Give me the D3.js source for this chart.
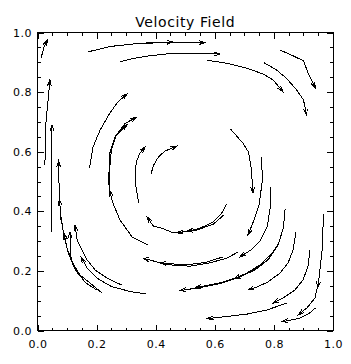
<!DOCTYPE html>
<html>
<head>
<meta charset="utf-8">
<script src="https://cdn.jsdelivr.net/npm/d3@7"></script>
<style>
  body { margin: 0; background: #fff; }
  svg { display: block; }
  text { font-family: "DejaVu Sans", sans-serif; fill: #000; }
</style>
</head>
<body>
<svg width="351" height="364"></svg>
<script>
let svg = d3.select('svg');
const width = +svg.attr('width');
const height = +svg.attr('height');

const title = 'Velocity Field'
const majorTicks = [0, 0.2, 0.4, 0.6, 0.8, 1.0]
const minorTicks = d3.range(0, 1.0001, 0.05)

// streamlines, [x, y] in data units, arrow drawn at the last point
const topFlow = [
	[[0.012, 0.914], [0.022, 0.951], [0.034, 0.975]],
	[[0.171, 0.935], [0.245, 0.953], [0.347, 0.964], [0.459, 0.968]],
	[[0.347, 0.963], [0.448, 0.967], [0.567, 0.966]],
	[[0.279, 0.902], [0.323, 0.913], [0.381, 0.922], [0.437, 0.928], [0.618, 0.928]],
	[[0.573, 0.907], [0.640, 0.897], [0.708, 0.880], [0.763, 0.861], [0.797, 0.841], [0.831, 0.801]],
	[[0.766, 0.899], [0.809, 0.874], [0.843, 0.846], [0.877, 0.807], [0.900, 0.774], [0.911, 0.723]],
	[[0.821, 0.941], [0.860, 0.924], [0.900, 0.905], [0.916, 0.863], [0.941, 0.813]]
]

const rightFlow = [
	[[0.653, 0.676], [0.695, 0.629], [0.714, 0.599], [0.724, 0.539], [0.729, 0.461]],
	[[0.758, 0.582], [0.761, 0.505], [0.750, 0.421], [0.733, 0.371], [0.712, 0.320]],
	[[0.790, 0.482], [0.788, 0.414], [0.777, 0.347], [0.753, 0.300], [0.722, 0.270], [0.685, 0.247]],
	[[0.838, 0.408], [0.832, 0.344], [0.814, 0.287], [0.780, 0.237], [0.736, 0.203], [0.685, 0.180], [0.624, 0.159], [0.550, 0.144], [0.482, 0.134]],
	[[0.817, 0.294], [0.780, 0.238], [0.736, 0.205], [0.685, 0.181], [0.624, 0.161], [0.533, 0.143]],
	[[0.794, 0.260], [0.753, 0.220], [0.709, 0.193], [0.665, 0.173]],
	[[0.875, 0.331], [0.865, 0.270], [0.848, 0.227], [0.821, 0.193], [0.780, 0.163], [0.743, 0.146], [0.712, 0.136]],
	[[0.922, 0.270], [0.915, 0.213], [0.898, 0.169], [0.871, 0.136], [0.831, 0.109], [0.797, 0.092]],
	[[0.968, 0.391], [0.963, 0.270], [0.954, 0.186], [0.948, 0.143]],
	[[0.949, 0.153], [0.939, 0.109], [0.912, 0.076], [0.882, 0.052]],
	[[0.941, 0.076], [0.919, 0.057], [0.888, 0.042], [0.854, 0.034], [0.827, 0.030]],
	[[0.843, 0.092], [0.777, 0.069], [0.709, 0.055], [0.641, 0.047], [0.574, 0.040]]
]

const innerFlow = [
	[[0.678, 0.263], [0.641, 0.243], [0.584, 0.227], [0.516, 0.216], [0.465, 0.218], [0.415, 0.227], [0.357, 0.243]],
	[[0.628, 0.247], [0.567, 0.228], [0.499, 0.220], [0.415, 0.227]],
	[[0.640, 0.424], [0.623, 0.393], [0.595, 0.365], [0.550, 0.343], [0.505, 0.332], [0.471, 0.328]],
	[[0.631, 0.388], [0.595, 0.357], [0.539, 0.337], [0.505, 0.334]],
	[[0.499, 0.331], [0.455, 0.329], [0.425, 0.342], [0.391, 0.351], [0.371, 0.381]],
	[[0.176, 0.545], [0.188, 0.616], [0.212, 0.673], [0.245, 0.730], [0.272, 0.767], [0.303, 0.794]],
	[[0.374, 0.287], [0.320, 0.314], [0.279, 0.371], [0.255, 0.428], [0.244, 0.471]],
	[[0.245, 0.455], [0.244, 0.539], [0.250, 0.606], [0.267, 0.656], [0.303, 0.691]],
	[[0.240, 0.488], [0.245, 0.596], [0.262, 0.649], [0.296, 0.695], [0.335, 0.715]],
	[[0.342, 0.428], [0.332, 0.492], [0.330, 0.539], [0.337, 0.572], [0.347, 0.596], [0.364, 0.616]],
	[[0.384, 0.525], [0.393, 0.555], [0.409, 0.582], [0.431, 0.602], [0.472, 0.619]]
]

const leftFlow = [
	[[0.025, 0.555], [0.029, 0.706], [0.036, 0.773], [0.042, 0.841]],
	[[0.046, 0.331], [0.049, 0.690]],
	[[0.080, 0.364], [0.076, 0.421], [0.073, 0.488], [0.071, 0.569]],
	[[0.201, 0.136], [0.164, 0.159], [0.130, 0.200], [0.105, 0.257], [0.090, 0.314], [0.080, 0.378], [0.074, 0.441]],
	[[0.144, 0.186], [0.117, 0.230], [0.100, 0.277], [0.090, 0.327]],
	[[0.369, 0.122], [0.313, 0.131], [0.249, 0.148], [0.201, 0.176], [0.168, 0.210], [0.147, 0.247]],
	[[0.284, 0.153], [0.235, 0.176], [0.195, 0.203], [0.168, 0.237], [0.151, 0.270], [0.134, 0.304], [0.127, 0.354]],
	[[0.218, 0.126], [0.178, 0.159], [0.144, 0.186], [0.120, 0.220], [0.110, 0.260], [0.110, 0.331]]
]

const margin = {left: 37.5, right: 18, top: 32.5, bottom: 33.5}
const x = d3.scaleLinear().domain([0, 1]).range([margin.left, width - margin.right])
const y = d3.scaleLinear().domain([0, 1]).range([height - margin.bottom, margin.top])

// title
svg.append('text')
	.attr('x', (x(0) + x(1)) / 2)
	.attr('y', 27)
	.attr('text-anchor', 'middle')
	.style('font-size', '14px')
	.style('letter-spacing', '0.6px')
	.text(title)

// frame
svg.append('rect')
	.attr('x', x(0)).attr('y', y(1))
	.attr('width', x(1) - x(0)).attr('height', y(0) - y(1))
	.attr('fill', 'none').attr('stroke', 'black')
	.attr('shape-rendering', 'crispEdges')

function ticks(axis, tr, vals, size, labels, pad) {
	const g = svg.append('g')
		.attr('transform', tr)
		.call(axis.tickValues(vals).tickSize(size).tickSizeOuter(0)
			.tickPadding(pad || 3)
			.tickFormat(labels ? d3.format('.1f') : ''))
	g.select('.domain').remove()
	g.selectAll('line').attr('shape-rendering', 'crispEdges')
	g.selectAll('text').style('font-size', '11px').style('letter-spacing', '0.5px').attr('font-family', null)
	return g
}

ticks(d3.axisBottom(x), `translate(0,${y(0)})`, minorTicks, -3, false)
ticks(d3.axisBottom(x), `translate(0,${y(0)})`, majorTicks, -6, true, 9.5)
ticks(d3.axisTop(x), `translate(0,${y(1)})`, minorTicks, -3, false)
ticks(d3.axisTop(x), `translate(0,${y(1)})`, majorTicks, -6, false)
ticks(d3.axisLeft(y), `translate(${x(0)},0)`, minorTicks, -3, false)
ticks(d3.axisLeft(y), `translate(${x(0)},0)`, majorTicks, -6, true, 5.5)
ticks(d3.axisRight(y), `translate(${x(1)},0)`, minorTicks, -3, false)
ticks(d3.axisRight(y), `translate(${x(1)},0)`, majorTicks, -6, false)

// streamlines
const allFlow = topFlow.concat(rightFlow, innerFlow, leftFlow)
const line = d3.line().x(d => x(d[0])).y(d => y(d[1]))

const flowG = svg.append('g')
	.attr('fill', 'none')
	.attr('stroke', 'black')
	.attr('stroke-width', 1)
	.attr('shape-rendering', 'crispEdges')

flowG.selectAll('.stream')
	.data(allFlow)
	.join('path')
	.attr('class', 'stream')
	.attr('d', line)

function arrowHead(d) {
	const a = d[d.length - 2], b = d[d.length - 1]
	const x0 = x(a[0]), y0 = y(a[1]), x1 = x(b[0]), y1 = y(b[1])
	const ang = Math.atan2(y1 - y0, x1 - x0)
	const len = 6.5, spread = 0.3
	const p = d3.path()
	p.moveTo(x1 - len * Math.cos(ang - spread), y1 - len * Math.sin(ang - spread))
	p.lineTo(x1, y1)
	p.lineTo(x1 - len * Math.cos(ang + spread), y1 - len * Math.sin(ang + spread))
	return p.toString()
}

flowG.selectAll('.head')
	.data(allFlow)
	.join('path')
	.attr('class', 'head')
	.attr('d', arrowHead)
</script>
</body>
</html>
